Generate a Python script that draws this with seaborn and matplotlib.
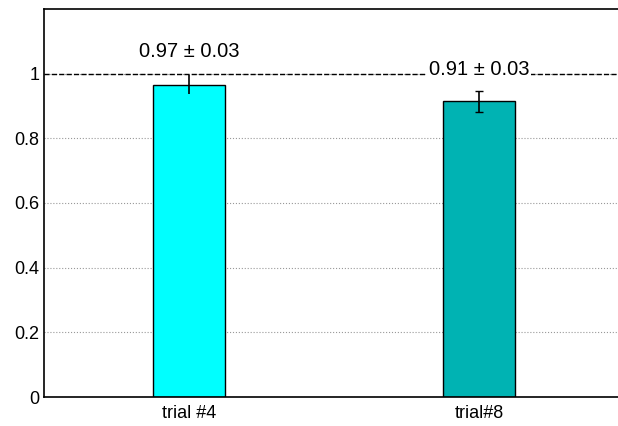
import matplotlib
matplotlib.use('Agg')
import matplotlib.pyplot as plt
import seaborn as sns

trials = ['trial #4', 'trial#8']
means = [0.966, 0.914]
errors = [0.03, 0.032]
bar_colors = ['#00FFFF', '#00B3B3']
annotations = ['0.97 \u00b1 0.03', '0.91 \u00b1 0.03']

sns.set_style('white')
plt.rcParams['font.family'] = ['Liberation Sans', 'DejaVu Sans']

fig = plt.figure(figsize=(6.18, 4.26), dpi=100)
ax = fig.add_axes([44 / 618, 1 - 397 / 426, 580 / 618, 388 / 426])

sns.barplot(x=trials, y=means, hue=trials, palette=bar_colors, legend=False,
            width=0.25, edgecolor='black', linewidth=1, saturation=1, ax=ax)

# error bars: first one has no caps in the original
ax.errorbar(0, means[0], yerr=errors[0], fmt='none', ecolor='black', elinewidth=1.2, capsize=0, zorder=5)
ax.errorbar(1, means[1], yerr=errors[1], fmt='none', ecolor='black', elinewidth=1.2, capsize=3, zorder=5)

ax.axhline(1, ls='--', color='black', lw=1, zorder=3)

ax.set_xlim(-0.5, 1.5)
ax.set_ylim(0, 1.2)
ax.set_yticks([0, 0.2, 0.4, 0.6, 0.8, 1])
ax.set_yticklabels(['0', '0.2', '0.4', '0.6', '0.8', '1'])
ax.yaxis.grid(True, ls=':', color='#999999', lw=0.8)
ax.set_axisbelow(True)

ax.text(0, 1.068, annotations[0], ha='center', va='center', fontsize=14.5, color='black')
ax.text(1, 1.012, annotations[1], ha='center', va='center', fontsize=14.5, color='black',
        bbox=dict(facecolor='white', edgecolor='none', pad=1), zorder=6)

ax.tick_params(axis='both', labelsize=13, direction='in', length=4, colors='black')
ax.tick_params(axis='x', length=0, pad=6)
for side in ['left', 'bottom', 'top', 'right']:
    ax.spines[side].set_color('black')
    ax.spines[side].set_linewidth(1.2)

fig.savefig('out.png', dpi=100)
